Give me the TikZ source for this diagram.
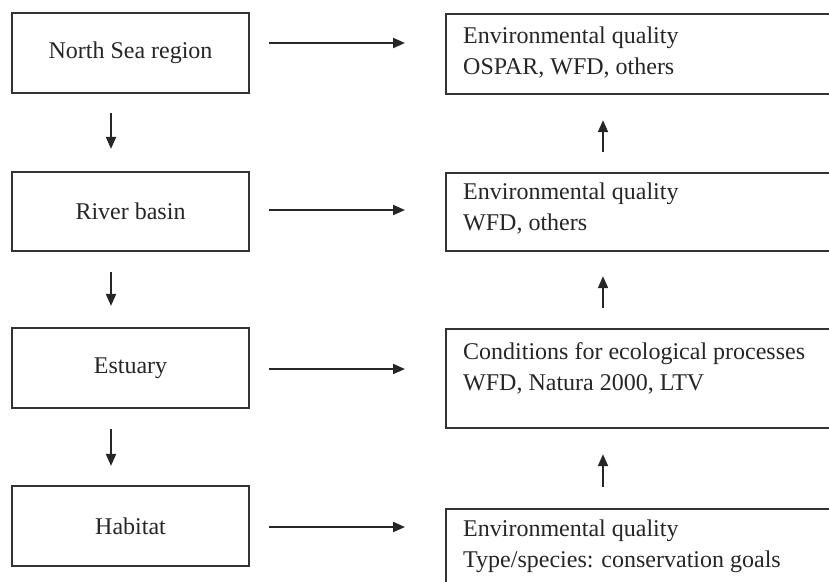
\documentclass[tikz,border=0pt]{standalone}
\usepackage{fontspec}
\setmainfont{Liberation Serif}
\usetikzlibrary{arrows.meta,calc}
\begin{document}
\begin{tikzpicture}[x=1pt,y=-1pt,
  box/.style={draw=black!80,line width=2.2pt,inner sep=0pt,rectangle},
  lbox/.style={box,minimum width=237pt,minimum height=80pt,font=\fontsize{24}{30}\selectfont,text=black!85},
  txt/.style={anchor=base west,inner sep=0pt,align=left,font=\fontsize{24}{31}\selectfont,text=black!85},
  arr/.style={draw=black!85,line width=2pt,-{Triangle[length=12pt,width=10pt]}}]
\clip (0,0) rectangle (829,581);
\fill[white] (0,0) rectangle (829,581);
% left column
\node[lbox] (L1) at (130.5,53) {North Sea region};
\node[lbox,minimum height=79pt] (L2) at (130.5,211.5) {River basin};
\node[lbox] (L3) at (130.5,368) {Estuary};
\node[lbox] (L4) at (130.5,526) {Habitat};
% right column
\node[box,anchor=north west,minimum width=400pt,minimum height=80pt] (R1) at (445,13) {};
\node[box,anchor=north west,minimum width=400pt,minimum height=78pt] (R2) at (445,172) {};
\node[box,anchor=north west,minimum width=400pt,minimum height=99pt] (R3) at (445,328) {};
\node[box,anchor=north west,minimum width=400pt,minimum height=100pt] (R4) at (445,508) {};
\node[txt] (T1) at ($(R1.north west)+(18,61)$) {Environmental quality\\OSPAR, WFD, others};
\node[txt] (T2) at ($(R2.north west)+(18,58)$) {Environmental quality\\WFD, others};
\node[txt] (T3) at ($(R3.north west)+(18,62)$) {Conditions for ecological processes\\WFD, Natura 2000, LTV};
\node[txt] (T4) at ($(R4.north west)+(18,59)$) {Environmental quality\\Type/species: conservation goals};
% horizontal arrows
\draw[arr] ($(L1.east)+(19,-10)$) -- ($(R1.west |- L1.east)+(-40,-10)$);
\draw[arr] ($(L2.east)+(19,-1.5)$) -- ($(R2.west |- L2.east)+(-40,-1.5)$);
\draw[arr] ($(L3.east)+(19,1)$) -- ($(R3.west |- L3.east)+(-40,1)$);
\draw[arr] ($(L4.east)+(19,1)$) -- ($(R4.west |- L4.east)+(-40,1)$);
% down arrows
\draw[arr] ($(L1.south)+(-19.5,19)$) -- ($(L2.north)+(-19.5,-22)$);
\draw[arr] ($(L2.south)+(-19.5,20)$) -- ($(L3.north)+(-19.5,-21)$);
\draw[arr] ($(L3.south)+(-19.5,20)$) -- ($(L4.north)+(-19.5,-19)$);
% up arrows
\draw[arr] ($(R2.north west)+(158,-20)$) -- ($(R1.south west)+(158,25)$);
\draw[arr] ($(R3.north west)+(158,-20)$) -- ($(R2.south west)+(158,24)$);
\draw[arr] ($(R4.north west)+(158,-21)$) -- ($(R3.south west)+(158,25)$);
\end{tikzpicture}
\end{document}
